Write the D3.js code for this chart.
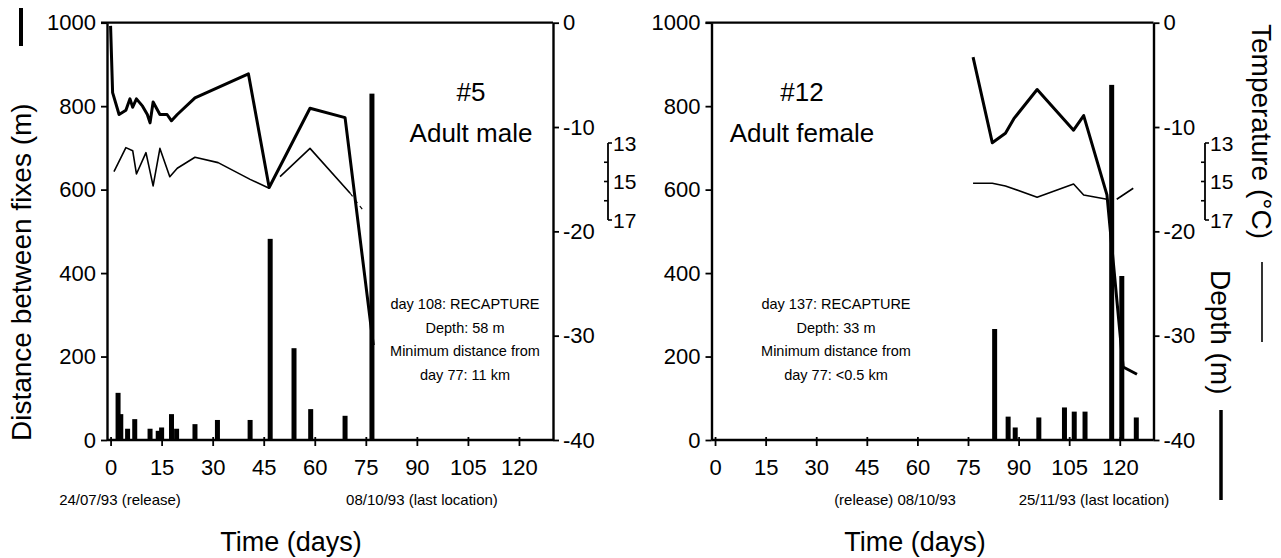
<!DOCTYPE html>
<html><head><meta charset="utf-8">
<script src="https://cdn.jsdelivr.net/npm/d3@7"></script>
<style>
html,body{margin:0;padding:0;background:#fff;}
svg{display:block;font-family:"Liberation Sans",Arial,Helvetica,sans-serif;}
</style></head>
<body>
<svg id="chart" width="1281" height="558"></svg>
<script>
// ---------- data ----------
const xTicks = [0, 15, 30, 45, 60, 75, 90, 105, 120];
const distTicks = [0, 200, 400, 600, 800, 1000];
const depthTicks = [0, -10, -20, -30, -40];
const tempTicks = [13, 14, 15, 16, 17];
const tempLabels = [13, 15, 17];

// #5 Adult male
const bars5Days = [2.2, 3.0, 5.0, 7.1, 11.6, 14.0, 15.0, 17.9, 19.4, 24.8, 31.4, 41.0, 46.9, 53.9, 58.8, 68.9, 76.8];
const bars5 = [113, 62, 27, 50, 27, 22, 30, 62, 27, 38, 48, 48, 482, 220, 74, 58, 830];
const depth5Days = [0, 0.6, 2.5, 4.5, 5.7, 6.5, 7.6, 9.4, 10.8, 11.6, 12.5, 14.5, 16.6, 17.9, 19.6, 24.8, 40.5, 46.6, 58.6, 68.9, 77.2];
const depth5 = [-0.3, -6.7, -8.8, -8.4, -7.3, -8.1, -7.3, -8.0, -8.8, -9.6, -7.6, -8.8, -8.8, -9.4, -8.8, -7.2, -4.9, -15.8, -8.2, -9.1, -30.9];
const temp5Days = [1.0, 4.5, 6.5, 7.6, 10.4, 12.5, 14.5, 17.4, 19.6, 24.8, 31.6, 41.0, 46.6, 48.2, 49.8, 58.6, 70.4];
const temp5 = [14.49, 13.24, 13.40, 14.61, 13.50, 15.23, 13.28, 14.75, 14.31, 13.74, 14.02, 14.89, 15.35, null, 14.75, 13.28, 15.61];
const temp5TailDays = [70.4, 74.5];
const temp5Tail = [15.61, 16.57];

// #12 Adult female
const bars12Days = [82.9, 86.9, 89.0, 96.0, 103.6, 106.5, 109.7, 117.6, 120.6, 124.9];
const bars12 = [266, 56, 30, 54, 78, 68, 68, 851, 393, 54];
const depth12Days = [76.5, 82.2, 86.1, 88.6, 95.5, 106.3, 109.3, 116.2, 121.0, 125.1];
const depth12 = [-3.3, -11.5, -10.6, -9.2, -6.4, -10.3, -8.9, -16.5, -33.0, -33.7];
const temp12Days = [76.5, 82.2, 86.1, 95.5, 106.3, 109.3, 116.2, 117.6, 119.1, 124.0];
const temp12 = [15.09, 15.09, 15.23, 15.82, 15.13, 15.70, 15.92, null, 15.92, 15.35];
const temp12TailDays = [];
const temp12Tail = [];

// ---------- drawing ----------
const svg = d3.select("#chart");
const FONT = '"Liberation Sans",Arial,Helvetica,sans-serif';
const yTop = 22.7, yBot = 440;
const yDist = d3.scaleLinear().domain([0, 1000]).range([yBot, yTop]);
const yDepth = d3.scaleLinear().domain([-40, 0]).range([yBot, yTop]);
const yTemp = d3.scaleLinear().domain([13, 17]).range([143, 220]);

function panel(cfg) {
  const g = svg.append("g");
  const x = d3.scaleLinear().domain([-1.05, 130]).range([cfg.x0, cfg.x1]);

  // top frame line
  g.append("line").attr("x1", cfg.x0 - 6).attr("x2", cfg.x1).attr("y1", yTop).attr("y2", yTop)
    .attr("stroke", "#000").attr("stroke-width", 2.2);

  // bars
  g.selectAll("rect.bar").data(cfg.barDays.map((d, i) => ({d, v: cfg.bars[i]})))
    .enter().append("rect")
    .attr("x", d => x(d.d) - 2.5).attr("width", 5)
    .attr("y", d => yDist(d.v)).attr("height", d => yDist(0) - yDist(d.v))
    .attr("fill", "#000");

  // depth line (thick)
  const depthLine = d3.line().x(d => x(d[0])).y(d => yDepth(d[1]));
  g.append("path").datum(cfg.depthDays.map((d, i) => [d, cfg.depth[i]]))
    .attr("d", depthLine).attr("fill", "none").attr("stroke", "#000")
    .attr("stroke-width", 3).attr("stroke-linejoin", "round");

  // temperature line (thin)
  const tempLine = d3.line().defined(d => d[1] !== null).x(d => x(d[0])).y(d => yTemp(d[1]));
  g.append("path").datum(cfg.tempDays.map((d, i) => [d, cfg.temp[i]]))
    .attr("d", tempLine).attr("fill", "none").attr("stroke", "#000")
    .attr("stroke-width", 1.6).attr("stroke-linejoin", "round");
  if (cfg.tailDays.length) {
    g.append("path").datum(cfg.tailDays.map((d, i) => [d, cfg.tail[i]]))
      .attr("d", tempLine).attr("fill", "none").attr("stroke", "#000")
      .attr("stroke-width", 1.2).attr("stroke-dasharray", "4,4");
  }

  // left axis
  const ax = g.append("g").attr("transform", `translate(${cfg.x0},0)`)
    .call(d3.axisLeft(yDist).tickValues(distTicks).tickSize(6).tickSizeOuter(0).tickPadding(5)
      .tickFormat(d3.format("d")));
  // right axis
  const ar = g.append("g").attr("transform", `translate(${cfg.x1},0)`)
    .call(d3.axisRight(yDepth).tickValues(depthTicks).tickSize(6).tickSizeOuter(0).tickPadding(4)
      .tickFormat(d => String(d)));
  // bottom axis
  const ab = g.append("g").attr("transform", `translate(0,${yBot})`)
    .call(d3.axisBottom(x).tickValues(xTicks).tickSize(6).tickSizeOuter(0).tickPadding(13));
  ab.selectAll(".tick line").attr("y1", -3);
  [ax, ar, ab].forEach(a => {
    a.select(".domain").attr("stroke-width", 2.4);
    a.selectAll(".tick line").attr("stroke-width", 1.8);
    a.selectAll("text").attr("font-family", FONT).attr("font-size", 22).attr("fill", "#000");
  });
  ab.select(".domain").attr("d", `M${cfg.x0},0H${cfg.x1}`);

  // temperature mini-axis
  const tx = cfg.tempX;
  const ta = g.append("g");
  ta.append("line").attr("x1", tx).attr("x2", tx).attr("y1", yTemp(13)).attr("y2", yTemp(17))
    .attr("stroke", "#000").attr("stroke-width", 1.8);
  tempTicks.forEach(t => {
    const end = (t === 13 || t === 17);
    ta.append("line").attr("x1", tx).attr("x2", end ? tx + 4 : tx - 4)
      .attr("y1", yTemp(t)).attr("y2", yTemp(t)).attr("stroke", "#000").attr("stroke-width", 1.6);
  });
  ta.selectAll("text").data(tempLabels).enter().append("text")
    .attr("x", tx + 5).attr("y", d => yTemp(d)).attr("dy", "0.38em")
    .attr("font-family", FONT).attr("font-size", 21).text(d => d);

  // titles
  g.append("text").attr("x", cfg.titleX).attr("y", 101).attr("text-anchor", "middle")
    .attr("font-family", FONT).attr("font-size", 26).text(cfg.title);
  g.append("text").attr("x", cfg.titleX).attr("y", 142).attr("text-anchor", "middle")
    .attr("font-family", FONT).attr("font-size", 26).text(cfg.subtitle);

  // notes
  cfg.notes.forEach((t, i) => {
    g.append("text").attr("x", cfg.notesX).attr("y", 309 + i * 23.5).attr("text-anchor", "middle")
      .attr("font-family", FONT).attr("font-size", 14.5).text(t);
  });

  // dates
  cfg.dates.forEach(d => {
    g.append("text").attr("x", d.x).attr("y", 505).attr("text-anchor", "middle")
      .attr("font-family", FONT).attr("font-size", 15).text(d.t);
  });

  // x-axis title
  g.append("text").attr("x", cfg.timeX).attr("y", 551).attr("text-anchor", "middle")
    .attr("font-family", FONT).attr("font-size", 27).text("Time (days)");
}

panel({
  x0: 107, x1: 553, tempX: 608,
  barDays: bars5Days, bars: bars5, depthDays: depth5Days, depth: depth5,
  tempDays: temp5Days, temp: temp5, tailDays: temp5TailDays, tail: temp5Tail,
  title: "#5", subtitle: "Adult male", titleX: 471,
  notes: ["day 108: RECAPTURE", "Depth: 58 m", "Minimum distance from", "day 77: 11 km"], notesX: 465,
  dates: [{t: "24/07/93 (release)", x: 120}, {t: "08/10/93 (last location)", x: 422}],
  timeX: 291
});
panel({
  x0: 711.5, x1: 1153.5, tempX: 1205,
  barDays: bars12Days, bars: bars12, depthDays: depth12Days, depth: depth12,
  tempDays: temp12Days, temp: temp12, tailDays: temp12TailDays, tail: temp12Tail,
  title: "#12", subtitle: "Adult female", titleX: 802,
  notes: ["day 137: RECAPTURE", "Depth: 33 m", "Minimum distance from", "day 77: <0.5 km"], notesX: 836,
  dates: [{t: "(release) 08/10/93", x: 895}, {t: "25/11/93 (last location)", x: 1094}],
  timeX: 915
});

// left y title with thick line marker
svg.append("text").attr("transform", "translate(31,441) rotate(-90)")
  .attr("font-family", FONT).attr("font-size", 28).text("Distance between fixes (m)");
svg.append("line").attr("x1", 21).attr("x2", 21).attr("y1", 8).attr("y2", 46)
  .attr("stroke", "#000").attr("stroke-width", 4);

// right titles
svg.append("text").attr("transform", "translate(1252,24) rotate(90)")
  .attr("font-family", FONT).attr("font-size", 28).text("Temperature (°C)");
svg.append("line").attr("x1", 1262).attr("x2", 1262).attr("y1", 262).attr("y2", 342)
  .attr("stroke", "#000").attr("stroke-width", 1.6);
svg.append("text").attr("transform", "translate(1211,270) rotate(90)")
  .attr("font-family", FONT).attr("font-size", 28).text("Depth (m)");
svg.append("line").attr("x1", 1221).attr("x2", 1221).attr("y1", 410).attr("y2", 500)
  .attr("stroke", "#000").attr("stroke-width", 3.5);
</script>
</body></html>
